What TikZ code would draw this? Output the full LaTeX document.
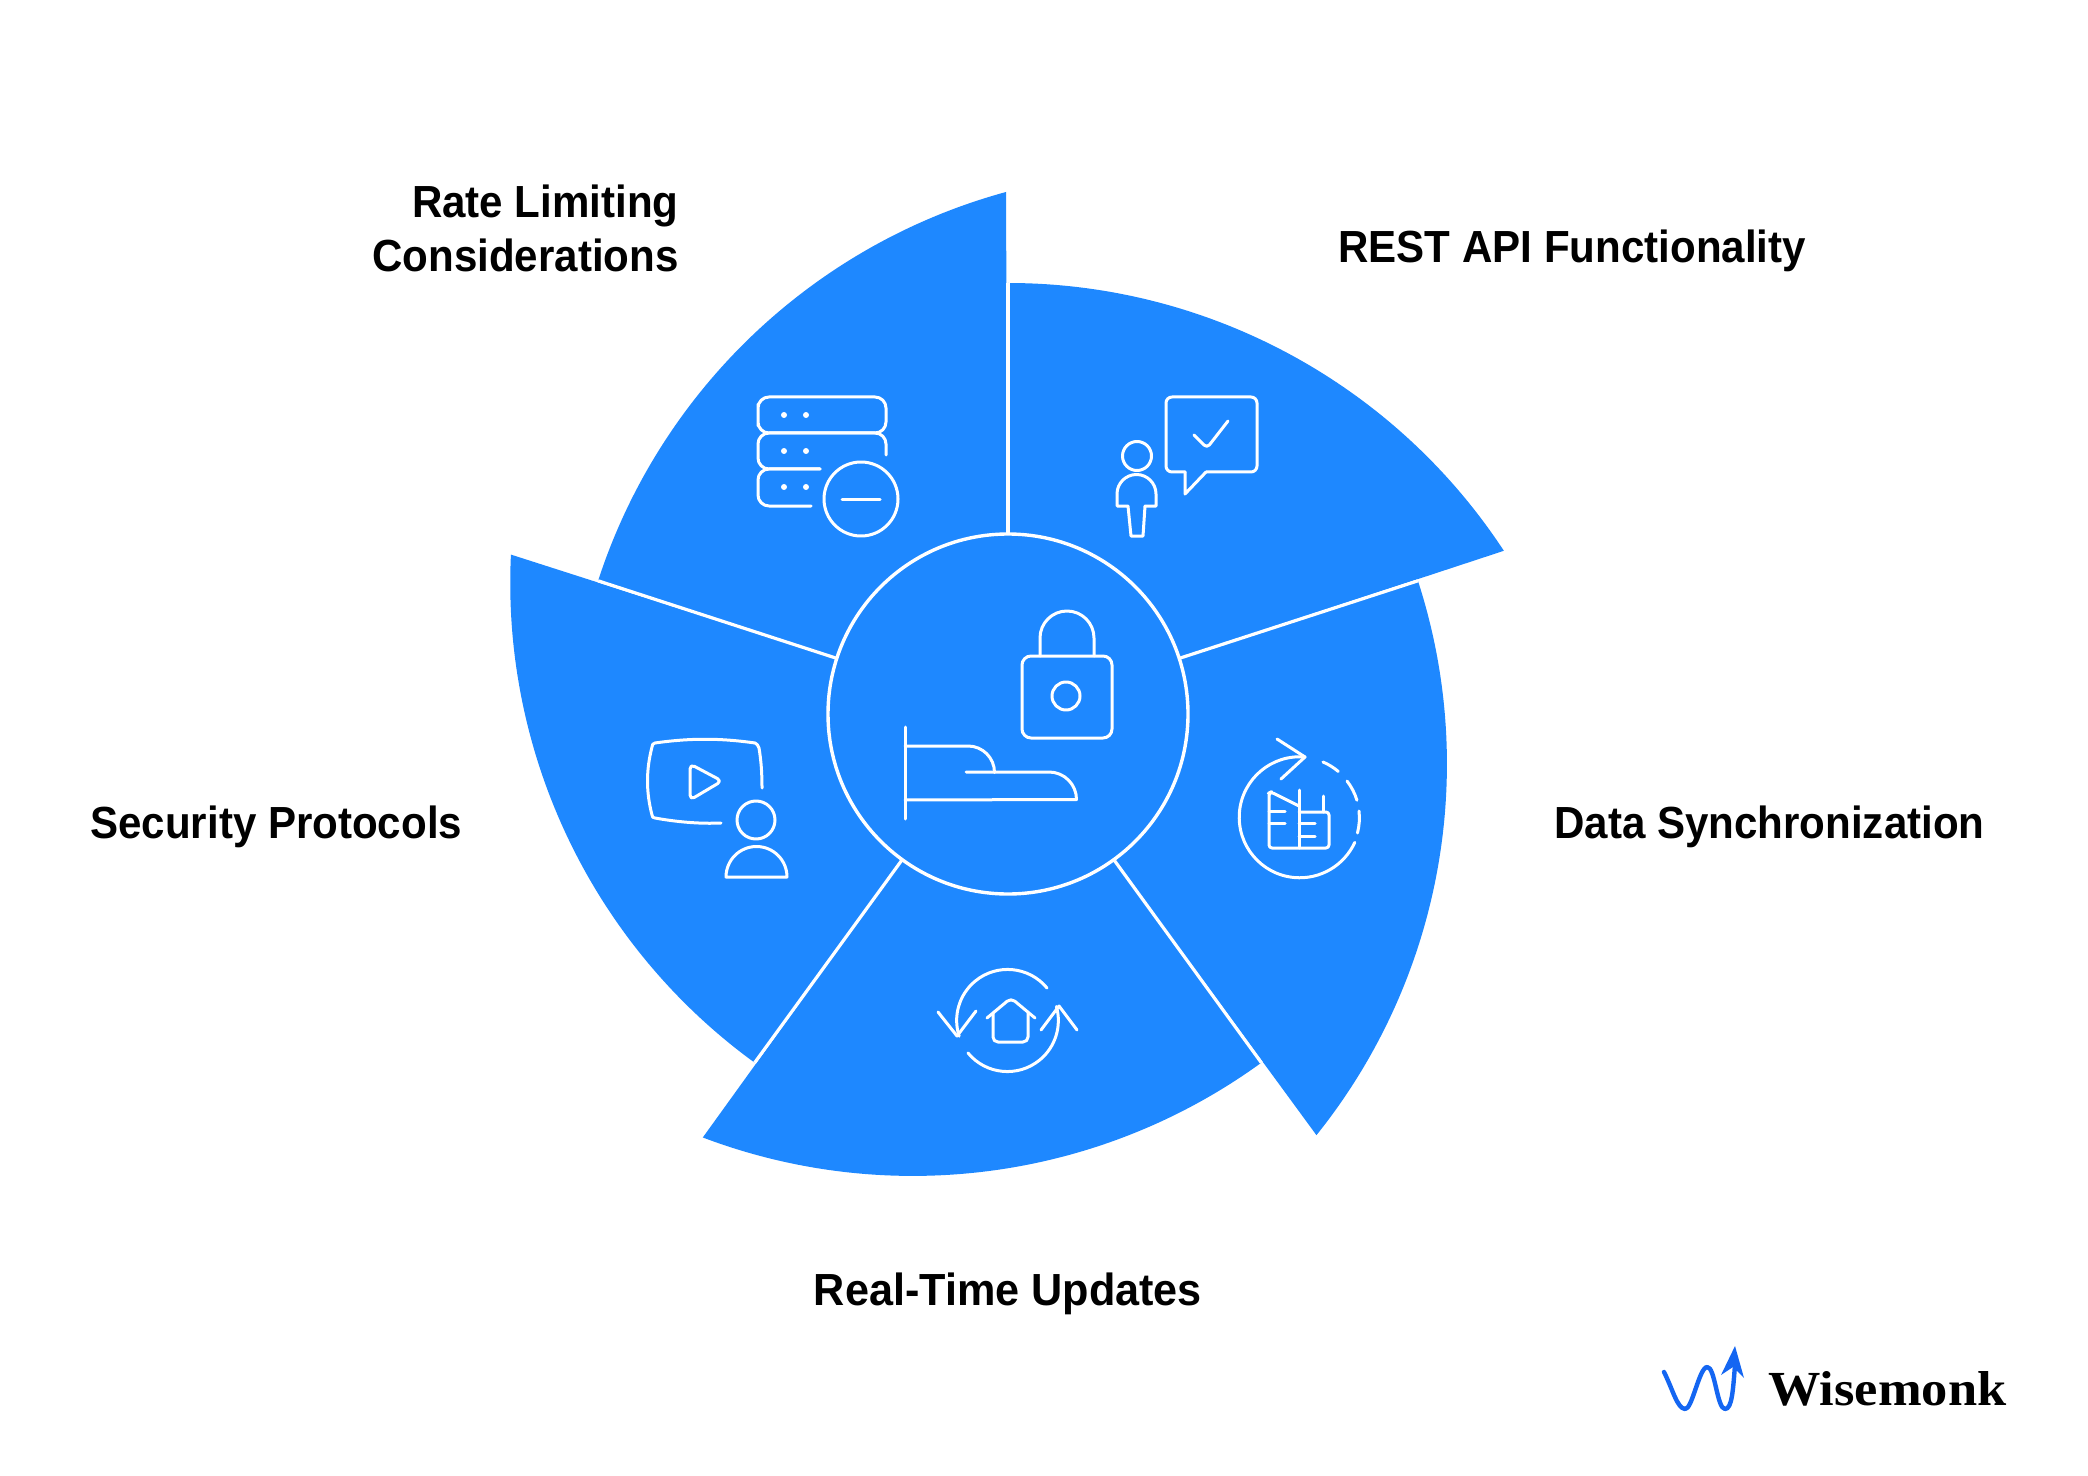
\documentclass[tikz,border=0pt]{standalone}
\usepackage{fontspec}
\setmainfont{Liberation Sans}
\newfontfamily\labelfont[FakeStretch=0.935]{Liberation Sans}
\newfontfamily\labelwide[FakeStretch=0.96]{Liberation Sans}
\newfontfamily\logofont[FakeStretch=1.07]{Liberation Serif}
\definecolor{wedge}{HTML}{1E88FF}
\definecolor{logoblue}{HTML}{1466F2}
\tikzset{
  icon/.style={draw=white,line width=1.5pt,line cap=round,line join=round},
  label/.style={font=\labelfont\fontsize{22.5}{27}\selectfont\bfseries,text=black,inner sep=0pt},
}
\begin{document}
\begin{tikzpicture}[x=.5pt,y=.5pt,yscale=-1]
\useasboundingbox (0,0) rectangle (2088,1476);
\fill[white] (0,0) rectangle (2088,1476);
% wedges
\begin{scope}[shift={(1008,714)},yscale=-1]
  \foreach \a in {18,90,162,234,306}{
    \pgfmathsetmacro{\st}{\a+72}
    \pgfmathsetmacro{\en}{\a+15.26}
    \fill[wedge] (\st:431) arc[start angle=\st,end angle=\en,radius=593] -- (0,0) -- cycle;
  }
  \foreach \a in {18,90,162,234,306}{
    \draw[white,line width=1.6pt] (\a:180) -- (\a:431);
  }
  \draw[white,fill=wedge,line width=1.7pt] (0,0) circle[radius=180];
\end{scope}
% labels
\node[label,anchor=east,align=right] (rate) at (679,228) {Rate Limiting\\Considerations};
\node[label,anchor=west] (rest) at (1338,251) {REST API Functionality};
\node[label,anchor=west] (data) at (1554,827) {Data Synchronization};
\node[label,anchor=west] (sec) at (90,827) {Security Protocols};
\node[label,font=\labelwide\fontsize{22.5}{27}\selectfont\bfseries] (real) at (1008,1294) {Real-Time Updates};
% rate icon
\draw[icon,rounded corners=5.5pt] (758,415) |- (886,397) |- (758,433) -- cycle;
\draw[icon,rounded corners=5.5pt] (886,455) |- (758,433) |- (820,469);
\draw[icon,rounded corners=5.5pt] (820,469) -| (758,506) -- (811,506);
\foreach \y in {415,451,487}{\fill[white] (784,\y) circle[radius=3]; \fill[white] (806,\y) circle[radius=3];}
\draw[icon] (861,499) circle[radius=37];
\draw[icon] (842,499) -- (880,499);
% REST icon
\draw[icon,rounded corners=3pt] (1185,472) -| (1166,397) -| (1257,472) -- (1206,472);
\draw[icon] (1185,472) -- (1185,494) -- (1206,472);
\draw[icon,rounded corners=2pt] (1194,435) -- (1207,448) -- (1228,421);
\draw[icon] (1137,456) circle[radius=14.5];
\draw[icon] (1117,506) -- (1117,494) arc[start angle=180,end angle=360,radius=19.5] -- (1156,506) -- (1145,506) -- (1143,536) -- (1131,536) -- (1128,506) -- cycle;
% lock
\draw[icon,rounded corners=4.5pt] (1022,656) rectangle (1112,738);
\draw[icon] (1066,696) circle[radius=14];
\draw[icon] (1040,656) -- (1040,638) arc[start angle=180,end angle=360,radius=27] -- (1094,656);
% hand
\draw[icon] (905,727) -- (905,819);
\draw[icon] (905,746) -- (968,746) arc[start angle=-90,end angle=0,radius=26.5];
\draw[icon] (966,772) -- (1049,772) arc[start angle=-90,end angle=0,radius=27.5] -- (905,800);
% video
\draw[icon] (762,788) .. controls (762,772) and (761,760) .. (759,748) .. controls (758,745) and (757,744) .. (755,743)
  .. controls (720,738) and (690,738) .. (655,743) .. controls (653,743) and (652,745) .. (652,747)
  .. controls (646,770) and (646,792) .. (652,815) .. controls (652,817) and (653,818) .. (655,818)
  .. controls (677,822) and (700,824) .. (721,823);
\draw[icon,rounded corners=2.5pt] (690,764) -- (722,781) -- (690,800) -- cycle;
\draw[icon] (756,820) circle[radius=19];
\draw[icon] (726,877) arc[start angle=180,end angle=360,radius=30.5] -- cycle;
% real-time icon
\draw[icon] (1047,988) arc[start angle=-39.5,end angle=-198,radius=51];
\draw[icon] (938,1012) -- (957,1036) -- (976,1011);
\draw[icon] (968,1053) arc[start angle=140.5,end angle=-16,radius=51];
\draw[icon] (1041,1030) -- (1059,1006) -- (1077,1030);
\draw[icon,rounded corners=2.5pt] (987,1018) -- (1011,998) -- (1035,1018);
\draw[icon,rounded corners=2.5pt] (993,1013) |- (1028,1042) -- (1028,1013);
% data icon
\draw[icon] (1305,757) arc[start angle=-85,end angle=-335.5,radius=60.5];
\draw[icon] (1277,739) -- (1305,757) -- (1281,779);
\draw[icon] (1323,762) arc[start angle=-66.8,end angle=-49.7,radius=60.5];
\draw[icon] (1347,781) arc[start angle=-37.6,end angle=-17,radius=60.5];
\draw[icon] (1359,811) arc[start angle=-6.5,end angle=14.5,radius=60.5];
\draw[icon,rounded corners=1.5pt] (1299,806) -- (1271,792) -- (1269,793) -- (1269,848) -- (1329,848) -- (1329,812) -- (1299,812);
\draw[icon] (1299,790) -- (1299,848);
\draw[icon] (1323,796) -- (1323,812);
\draw[icon] (1269,811) -- (1285,811);
\draw[icon] (1269,823) -- (1285,823);
\draw[icon] (1299,823) -- (1315,823);
\draw[icon] (1299,836) -- (1315,836);
% logo
\draw[logoblue,line width=2.2pt,line cap=round,line join=round] (1664,1372) .. controls (1673,1390) and (1677,1408) .. (1685,1409)
  .. controls (1692,1410) and (1699,1368) .. (1707,1367) .. controls (1715,1366) and (1717,1409) .. (1725,1409)
  .. controls (1732,1409) and (1733,1390) .. (1735,1365);
\fill[logoblue] (1735,1346) -- (1744,1378) -- (1733,1367) -- (1721,1375) -- cycle;
\node[anchor=base west,inner sep=0pt,text=black,font=\logofont\fontsize{24.5}{24.5}\selectfont\bfseries] (logo) at (1768,1405) {Wisemonk};
\end{tikzpicture}
\end{document}
